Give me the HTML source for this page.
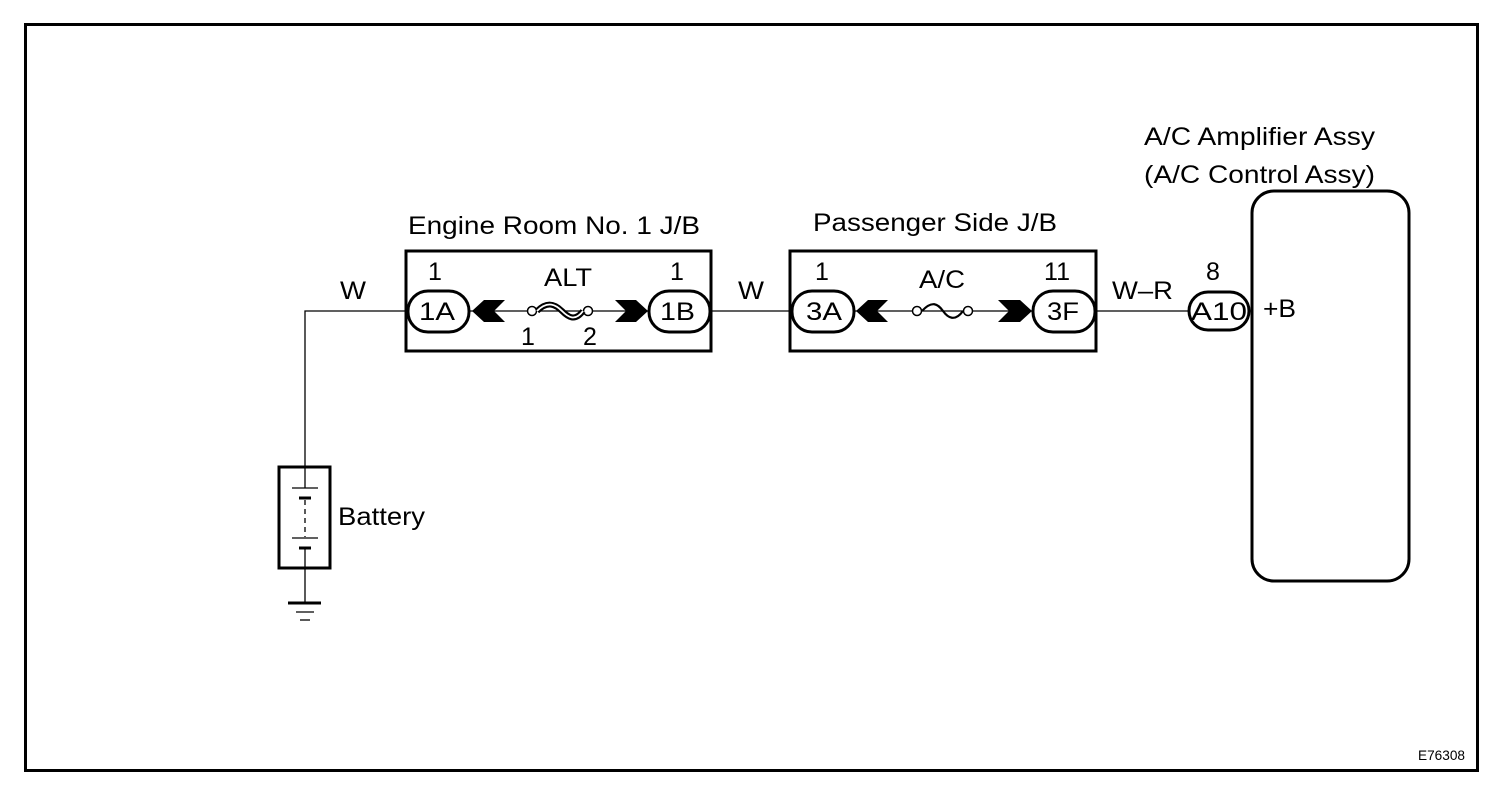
<!DOCTYPE html>
<html><head><meta charset="utf-8"><style>
html,body{margin:0;padding:0;background:#fff;}
svg{display:block;}
text{font-family:"Liberation Sans",Arial,sans-serif;fill:#000;}
</style></head><body>
<svg width="1504" height="802" viewBox="0 0 1504 802" xmlns="http://www.w3.org/2000/svg">
<rect x="25.5" y="24.5" width="1452" height="746" fill="none" stroke="#000" stroke-width="3"/>
<polyline points="305,569 305,311 407,311" fill="none" stroke="#000" stroke-width="1.3"/>
<line x1="305" y1="466" x2="305" y2="602" stroke="#000" stroke-width="1.3"/>
<line x1="470" y1="311" x2="648" y2="311" stroke="#000" stroke-width="1.3"/>
<line x1="711" y1="311" x2="791" y2="311" stroke="#000" stroke-width="1.3"/>
<line x1="855" y1="311" x2="1032" y2="311" stroke="#000" stroke-width="1.3"/>
<line x1="1096" y1="311" x2="1188" y2="311" stroke="#000" stroke-width="1.3"/>
<rect x="406" y="251" width="305" height="100" fill="none" stroke="#000" stroke-width="3"/>
<rect x="790" y="251" width="306" height="100" fill="none" stroke="#000" stroke-width="3"/>
<rect x="1252" y="191" width="157" height="390" rx="22" fill="none" stroke="#000" stroke-width="3"/>
<g fill="#fff" stroke="#000" stroke-width="3">
<rect x="408" y="291" width="61" height="41" rx="20"/>
<rect x="649" y="291" width="61" height="41" rx="20"/>
<rect x="792" y="291" width="62" height="41" rx="20"/>
<rect x="1033" y="291" width="62" height="41" rx="20"/>
<rect x="1189" y="292" width="60" height="38" rx="19"/>
</g>
<g fill="#000">
<polygon points="472,311 484,300 505,300 494,311 505,322 484,322"/>
<polygon points="648,311 636,300 615,300 626,311 615,322 636,322"/>
<polygon points="856,311 868,300 888,300 877,311 888,322 868,322"/>
<polygon points="1032,311 1020,300 998,300 1009,311 998,322 1020,322"/>
</g>
<g fill="#fff" stroke="#000" stroke-width="1.5">
<circle cx="532" cy="311" r="4.5"/><circle cx="588" cy="311" r="4.5"/>
<circle cx="917" cy="311" r="4.5"/><circle cx="968" cy="311" r="4.5"/>
</g>
<path d="M537,311 C548,300 556,305 562,311 S575,322 583,311" fill="none" stroke="#000" stroke-width="6"/>
<path d="M537,311 C548,300 556,305 562,311 S575,322 583,311" fill="none" stroke="#fff" stroke-width="1.8"/>
<path d="M922,311 C932,300 938,304 943,311 S955,322 963,311" fill="none" stroke="#000" stroke-width="2.2"/>
<rect x="279" y="467" width="51" height="101" fill="#fff" stroke="#000" stroke-width="3"/>
<line x1="305" y1="467" x2="305" y2="488" stroke="#000" stroke-width="1.3"/>
<line x1="292" y1="488" x2="318" y2="488" stroke="#000" stroke-width="1.3"/>
<line x1="299" y1="498" x2="311" y2="498" stroke="#000" stroke-width="3"/>
<line x1="305" y1="500" x2="305" y2="537" stroke="#000" stroke-width="1.3" stroke-dasharray="5,4"/>
<line x1="292" y1="538" x2="318" y2="538" stroke="#000" stroke-width="1.3"/>
<line x1="299" y1="548" x2="311" y2="548" stroke="#000" stroke-width="3"/>
<line x1="305" y1="549" x2="305" y2="568" stroke="#000" stroke-width="1.3"/>
<line x1="288" y1="603" x2="321" y2="603" stroke="#000" stroke-width="3"/>
<line x1="296" y1="612" x2="314" y2="612" stroke="#000" stroke-width="1.3"/>
<line x1="300" y1="620" x2="310" y2="620" stroke="#000" stroke-width="1.3"/>
<g font-size="25">
<text x="1144" y="145" textLength="231" lengthAdjust="spacingAndGlyphs">A/C Amplifier Assy</text>
<text x="1144" y="183" textLength="231" lengthAdjust="spacingAndGlyphs">(A/C Control Assy)</text>
<text x="408" y="234" textLength="292" lengthAdjust="spacingAndGlyphs">Engine Room No. 1 J/B</text>
<text x="813" y="231" textLength="244" lengthAdjust="spacingAndGlyphs">Passenger Side J/B</text>
<text x="340" y="299" textLength="26" lengthAdjust="spacingAndGlyphs">W</text>
<text x="738" y="299" textLength="26" lengthAdjust="spacingAndGlyphs">W</text>
<text x="1112" y="299" textLength="61" lengthAdjust="spacingAndGlyphs">W–R</text>
<text x="428" y="280">1</text>
<text x="670" y="280">1</text>
<text x="815" y="280">1</text>
<text x="1044" y="280" textLength="26" lengthAdjust="spacingAndGlyphs">11</text>
<text x="1206" y="280">8</text>
<text x="544" y="286" textLength="48" lengthAdjust="spacingAndGlyphs">ALT</text>
<text x="919" y="288" textLength="46" lengthAdjust="spacingAndGlyphs">A/C</text>
<text x="521" y="345">1</text>
<text x="583" y="345">2</text>
<text x="419" y="320" textLength="36" lengthAdjust="spacingAndGlyphs">1A</text>
<text x="660" y="320" textLength="35" lengthAdjust="spacingAndGlyphs">1B</text>
<text x="806" y="320" textLength="36" lengthAdjust="spacingAndGlyphs">3A</text>
<text x="1047" y="320" textLength="32" lengthAdjust="spacingAndGlyphs">3F</text>
<text x="1191" y="320" textLength="56" lengthAdjust="spacingAndGlyphs">A10</text>
<text x="1263" y="317" textLength="33" lengthAdjust="spacingAndGlyphs">+B</text>
<text x="338" y="525" textLength="87" lengthAdjust="spacingAndGlyphs">Battery</text>
</g>
<text x="1418" y="760" font-size="14" textLength="47" lengthAdjust="spacingAndGlyphs">E76308</text>
</svg>
</body></html>
